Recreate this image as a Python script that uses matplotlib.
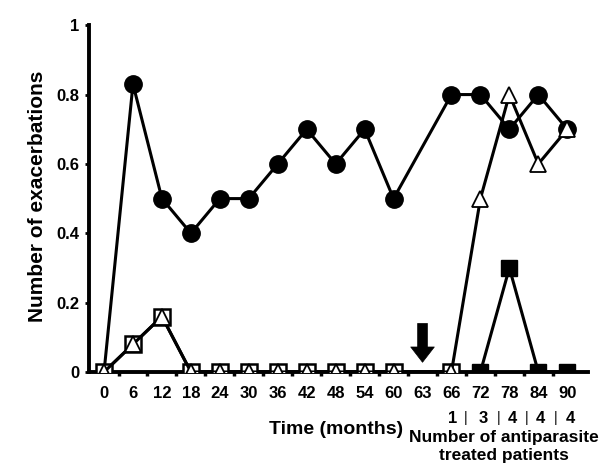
import numpy as np
import matplotlib.pyplot as plt

plt.rcParams['font.family'] = ['Liberation Sans', 'DejaVu Sans']
plt.rcParams['font.weight'] = 'bold'

months = ['0', '6', '12', '18', '24', '30', '36', '42', '48', '54', '60',
          '63', '66', '72', '78', '84', '90']
pos = np.arange(len(months))

# filled circles (no point at 63)
circ_idx = [0, 1, 2, 3, 4, 5, 6, 7, 8, 9, 10, 12, 13, 14, 15, 16]
circ_val = [0, 0.83, 0.5, 0.4, 0.5, 0.5, 0.6, 0.7, 0.6, 0.7, 0.5,
            0.8, 0.8, 0.7, 0.8, 0.7]

# open squares
osq_idx = [0, 1, 2, 3, 4, 5, 6, 7, 8, 9, 10, 12]
osq_val = [0, 0.08, 0.16, 0, 0, 0, 0, 0, 0, 0, 0, 0]

# filled squares
fsq_idx = [13, 14, 15, 16]
fsq_val = [0, 0.3, 0, 0]

# open triangles
tri_idx = [0, 1, 2, 3, 4, 5, 6, 7, 8, 9, 10, 12, 13, 14, 15, 16]
tri_val = [0, 0.08, 0.16, 0, 0, 0, 0, 0, 0, 0, 0, 0, 0.5, 0.8, 0.6, 0.7]

# treated patients row under the x labels
treated = ['1', '3', '4', '4', '4']
treated_x = [12.03, 13.1, 14.1, 15.07, 16.1]
sep_x = [12.5, 13.62, 14.6, 15.6]

fig = plt.figure(figsize=(6.12, 4.72), dpi=100)
ax = fig.add_axes([0.1454, 0.2119, 0.8156, 0.7457])

ax.plot(pos[circ_idx], circ_val, color='black', lw=2.2, marker='o', ms=12.5,
        mfc='black', mec='black', markevery=list(range(1, len(circ_idx))),
        zorder=3)
ax.plot(pos[osq_idx], osq_val, color='black', lw=2.2, marker='s', ms=11,
        mfc='white', mec='black', mew=1.8, zorder=4)
ax.plot(pos[fsq_idx], fsq_val, color='black', lw=2.2, marker='s', ms=11,
        mfc='black', mec='black', zorder=4)
ax.plot(pos[tri_idx], tri_val, color='black', lw=2.2, marker='^', ms=11,
        mfc='white', mec='black', mew=1.3, zorder=5)

# arrow marking treatment start
ax.annotate('', xy=(11, 0.028), xytext=(11, 0.14),
            arrowprops=dict(arrowstyle='simple,head_width=1.7,head_length=1.1,tail_width=0.7',
                            fc='black', ec='black', lw=0.5, shrinkA=0, shrinkB=0))

ax.set_xlim(-0.52, 16.72)
ax.set_ylim(0, 1.015)
ax.set_xticks(pos)
ax.set_xticklabels(months)
ax.set_xticks(pos[:-1] + 0.5, minor=True)
ax.set_yticks([0, 0.2, 0.4, 0.6, 0.8, 1])
ax.set_yticklabels(['0', '0.2', '0.4', '0.6', '0.8', '1'])

for s in ['top', 'right']:
    ax.spines[s].set_visible(False)
for s in ['left', 'bottom']:
    ax.spines[s].set_linewidth(2.8)
ax.spines['left'].set_bounds(0, 1.0)

ax.tick_params(axis='both', which='major', labelsize=12, width=2, length=3,
               direction='out', pad=4)
ax.tick_params(axis='x', which='major', length=0, pad=10)
ax.tick_params(axis='x', which='minor', width=2.5, length=3, direction='out')

ax.set_ylabel('Number of exacerbations', fontsize=15, fontweight='bold',
              labelpad=7)

for x, t in zip(treated_x, treated):
    ax.text(x, -0.133, t, ha='center', va='center', fontsize=12,
            fontweight='bold')
for x in sep_x:
    ax.text(x, -0.133, '|', ha='center', va='center', fontsize=10,
            fontweight='normal')

ax.text(8.0, -0.165, 'Time (months)', ha='center', va='center', fontsize=14,
        fontweight='bold')
ax.text(13.8, -0.215, 'Number of antiparasite\ntreated patients',
        ha='center', va='center', fontsize=12.5, fontweight='bold',
        linespacing=1.2)

fig.savefig('out.png', dpi=100)
